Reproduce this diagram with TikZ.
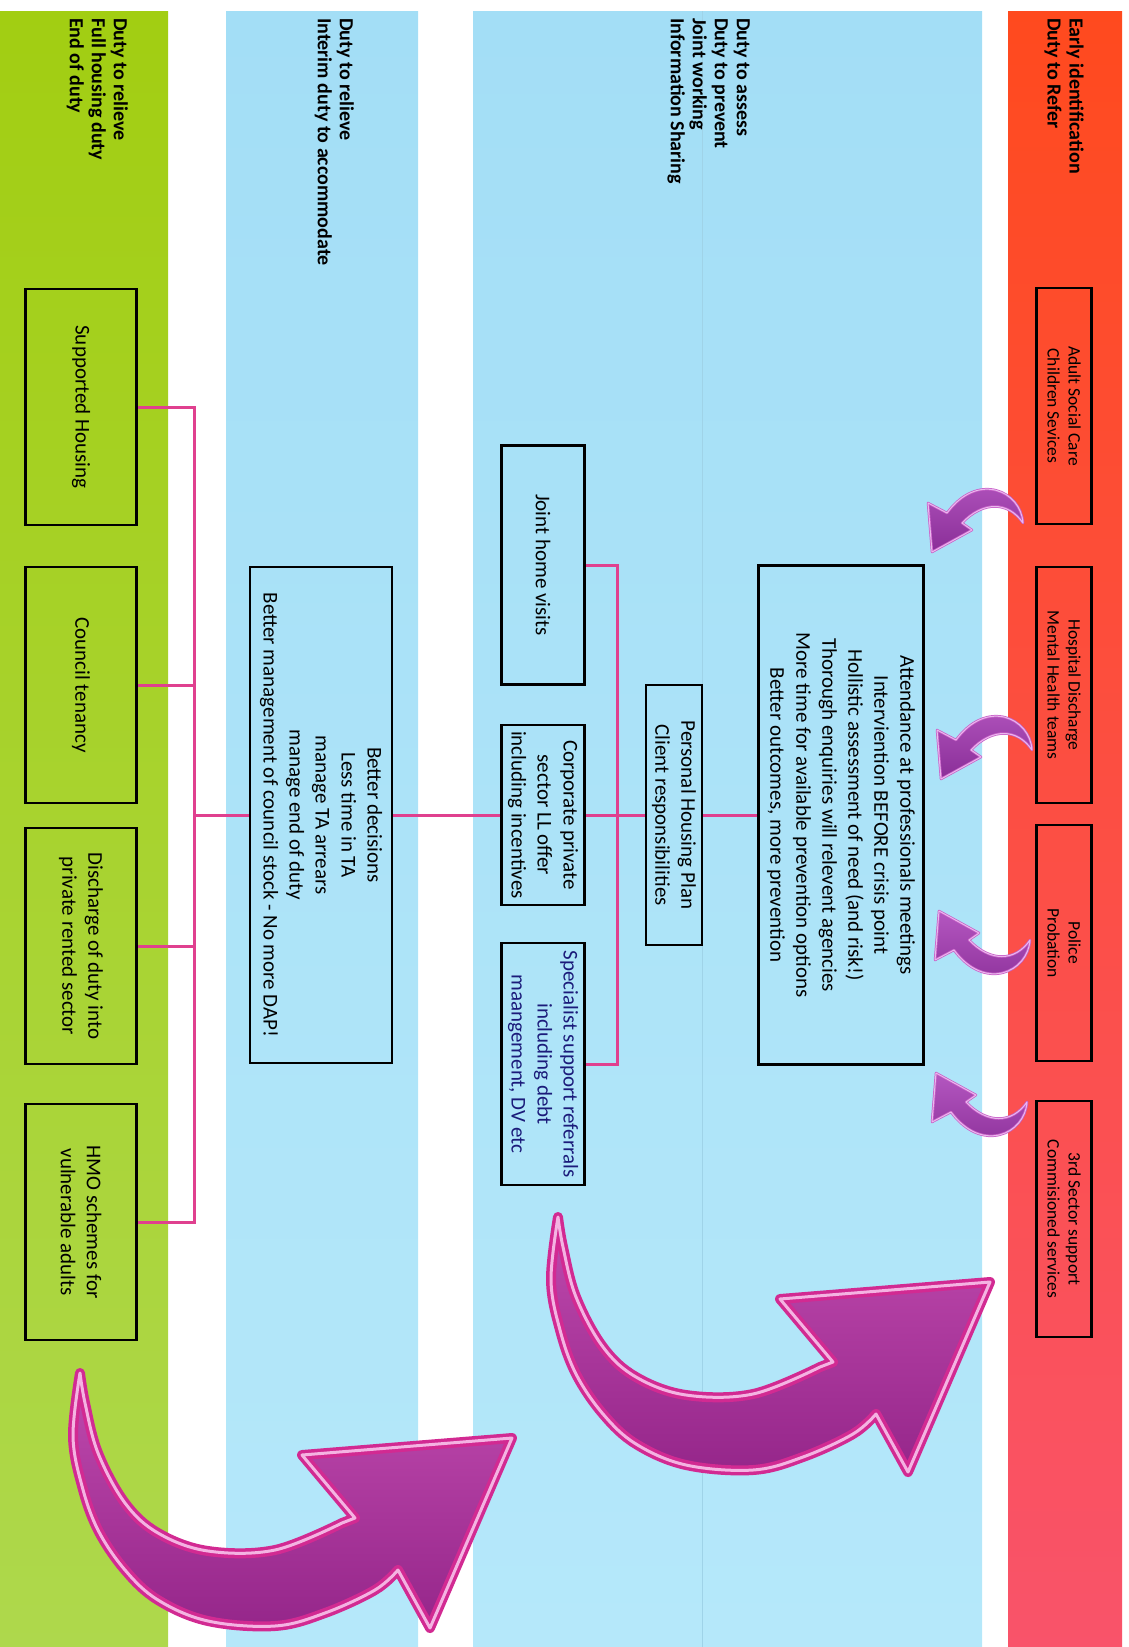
\documentclass[tikz,border=0pt]{standalone}
\usepackage{fontspec}
\setmainfont{Carlito}

\definecolor{redtop}{HTML}{FF4A1E}
\definecolor{redbot}{HTML}{F9536A}
\definecolor{bluetop}{HTML}{A3DEF6}
\definecolor{bluebot}{HTML}{B5E8FA}
\definecolor{greentop}{HTML}{A2CE12}
\definecolor{greenbot}{HTML}{AED84C}
\definecolor{linkpink}{HTML}{E0408F}
\definecolor{swooshedge}{HTML}{D22A92}
\definecolor{swooshlight}{HTML}{F4B3E2}
\definecolor{swooshtop}{HTML}{C04AAE}
\definecolor{swooshbot}{HTML}{95268A}
\definecolor{curltop}{HTML}{B457C0}
\definecolor{curlbot}{HTML}{8A2E98}
\definecolor{curledge}{HTML}{C860C8}
\definecolor{curllight}{HTML}{EBB8EE}
\definecolor{navytext}{HTML}{1B1B7A}

\newcommand{\dutyfont}{\fontsize{20}{22}\selectfont\bfseries}
\newcommand{\boxfont}{\fontsize{21}{26}\selectfont}
\newcommand{\redfont}{\fontsize{17.5}{21}\selectfont}

% the two arrow outlines, tail at (0,0)
\def\swooshpath{plot[smooth,tension=0.6] coordinates {(0,0) (-7,63) (2,113) (18,157) (45,197) (78,227) (128,248) (195,253) (245,240) (295,217) (318,197)} -- (350,255) -- (432,65) -- (222,82) -- (275,145) -- plot[smooth,tension=0.6] coordinates {(262,150) (195,177) (128,178) (78,160) (45,130) (18,80) (5,30) (0,0)} -- cycle}
\def\curlpath{(0,0) .. controls (-2,-32) and (-45,-52) .. (-76,-10) -- (-95,-20) -- (-91,29) -- (-51,7) -- (-61,0) .. controls (-40,-22) and (-15,-22) .. cycle}

\tikzset{
  pics/swoosh/.style={code={
    \shade[top color=swooshtop,bottom color=swooshbot] \swooshpath;
    \draw[swooshedge,line width=10pt,line join=round] \swooshpath;
    \draw[swooshlight,line width=3pt,line join=round] \swooshpath;
  }},
  pics/curl/.style={code={
    \shade[top color=curltop,bottom color=curlbot] \curlpath;
    \draw[curledge,line width=2.5pt,line join=round] \curlpath;
    \draw[curllight,line width=1pt,line join=round] \curlpath;
  }}
}

\begin{document}
\begin{tikzpicture}[x=1pt,y=-1pt,
  duty/.style={rotate=-90,anchor=north west,align=left,inner sep=0pt,font=\dutyfont},
  box/.style={draw,line width=2.5pt,rotate=-90,align=center,inner sep=0pt,font=\boxfont},
  redbox/.style={box,font=\redfont,minimum width=236pt,minimum height=55pt},
  greenbox/.style={box,minimum width=236pt,minimum height=111pt},
  link/.style={draw=linkpink,line width=3pt}]
\useasboundingbox (0,0) rectangle (1128,1647);

% bands
\shade[top color=greentop,bottom color=greenbot] (0,11) rectangle (168,1647);
\shade[top color=bluetop,bottom color=bluebot] (226,11) rectangle (418,1647);
\shade[top color=bluetop,bottom color=bluebot] (473,11) rectangle (982,1647);
\shade[top color=redtop,bottom color=redbot] (1008,11) rectangle (1122,1647);
\draw[bluetop!88!gray,line width=1pt] (702,11) -- (702,1647);

% headings
\node[duty] (refer) at (1084,18) {Early identification\\Duty to Refer};
\node[duty] (prevent) at (750,18) {Duty to assess\\Duty to prevent\\Joint working\\Information Sharing};
\node[duty] (relieve) at (354,18) {Duty to relieve\\Interim duty to accommodate};
\node[duty] (endduty) at (128,18) {Duty to relieve\\Full housing duty\\End of duty};

% referrers
\node[redbox] (adult) at (1064,406) {Adult Social Care\\Children Sevices};
\node[redbox] (hospital) at (1064,685) {Hospital Discharge\\Mental Health teams};
\node[redbox] (police) at (1064,943) {Police\\Probation};
\node[redbox] (thirdsec) at (1064,1219) {3rd Sector support\\Commisioned services};

% prevention
\node[box,minimum width=499pt,minimum height=165pt] (meetings) at (841,815)
  {Attendance at professionals meetings\\Interviention BEFORE crisis point\\Hollistic assessment of need (and risk!)\\Thorough enquiries will relevent agencies\\More time for available prevention options\\Better outcomes, more prevention};
\node[box,minimum width=260pt,minimum height=56pt] (plan) at (674,815) {Personal Housing Plan\\Client responsibilities};
\node[box,minimum width=239pt,minimum height=83pt] (visits) at (543,565) {Joint home visits};
\node[box,minimum width=180pt,minimum height=83pt] (landlord) at (543,815) {Corporate private\\sector LL offer\\including incentives};
\node[box,minimum width=242pt,minimum height=83pt,text=navytext] (specialist) at (543,1064) {Specialist support referrals\\including debt\\maangement, DV etc};

% relief
\node[box,minimum width=496pt,minimum height=142pt] (decisions) at (321,815)
  {Better decisions\\Less time in TA\\manage TA arrears\\manage end of duty\\Better management of council stock - No more DAP!};

% housing
\node[greenbox] (supported) at (81,407) {Supported Housing};
\node[greenbox] (council) at (81,685) {Council tenancy};
\node[greenbox] (discharge) at (81,946) {Discharge of duty into\\private rented sector};
\node[greenbox] (hmo) at (81,1222) {HMO schemes for\\vulnerable adults};

% links
\draw[link] (meetings.south) -- (plan.north);
\draw[link] (plan.south) -- (landlord.north);
\draw[link] (visits.north) -- ++(32,0) |- (specialist.north);
\draw[link] (landlord.south) -- (decisions.north);
\draw[link] (decisions.south) -- ++(-56,0);
\draw[link] (supported.north) -- ++(57,0) |- (hmo.north);
\draw[link] (council.north) -- ++(57,0);
\draw[link] (discharge.north) -- ++(57,0);

% arrows
\pic at (1023,523) {curl};
\pic at (1032,750) {curl};
\pic[yscale=-1] at (1030,940) {curl};
\pic[yscale=-1] at (1027,1102) {curl};
\pic at (558,1217) {swoosh};
\pic at (80,1373) {swoosh};
\end{tikzpicture}
\end{document}
